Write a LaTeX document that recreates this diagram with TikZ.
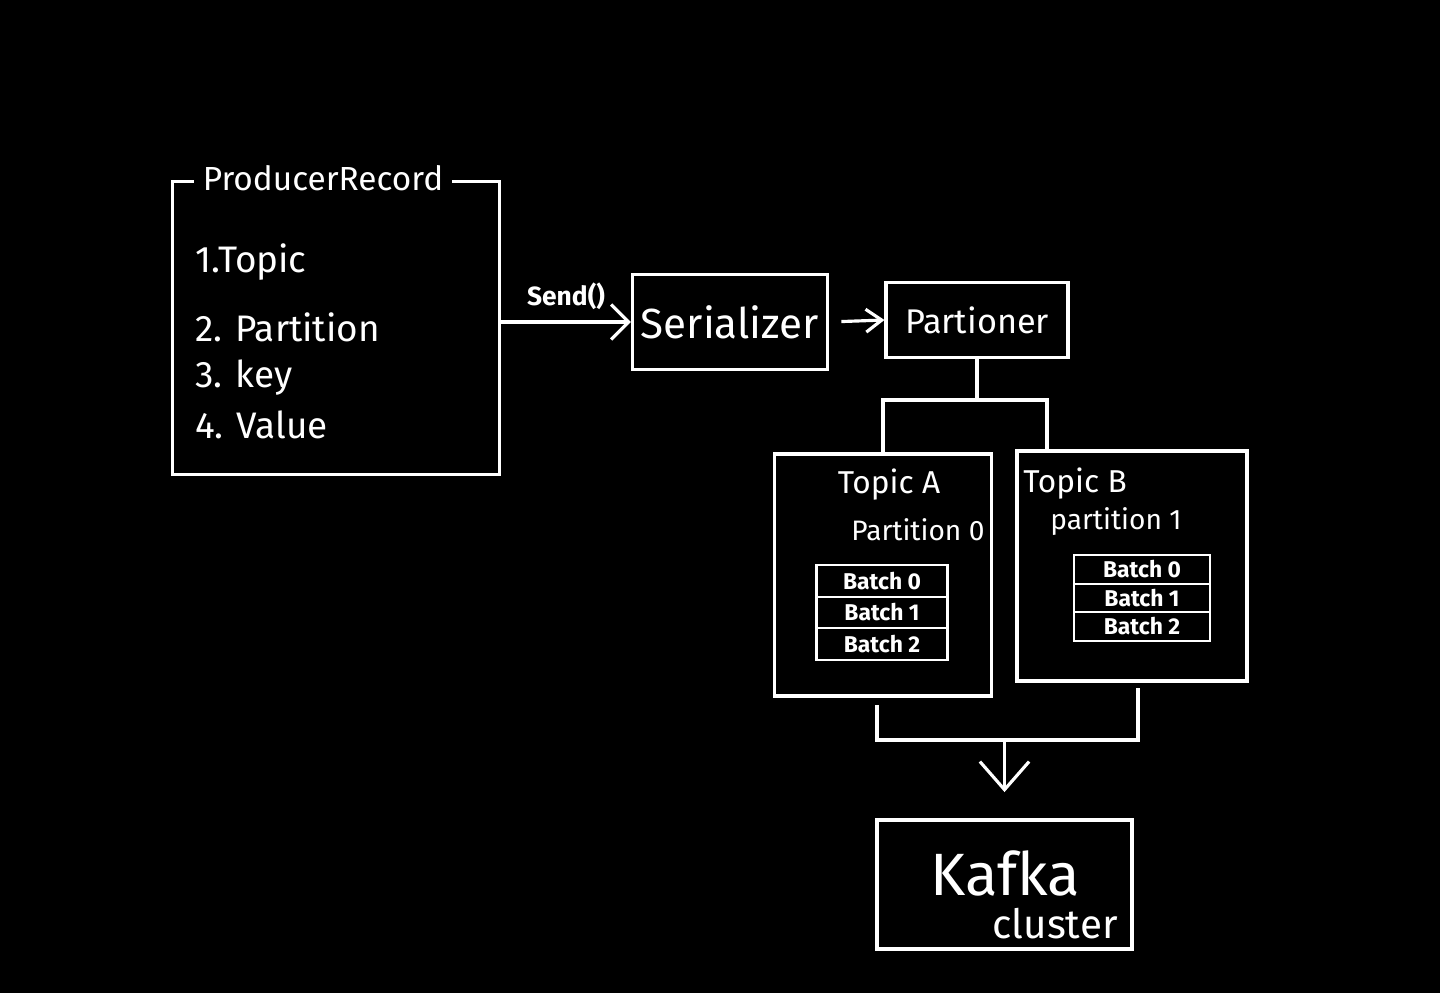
\documentclass[tikz,border=0pt]{standalone}
\usepackage{fontspec}
\setmainfont{Fira Sans}
\usetikzlibrary{arrows.meta}
\tikzset{
  box/.style={draw=white, line width=1.8pt, inner sep=0pt, text=white},
  txt/.style={text=white, inner sep=0pt},
  wire/.style={draw=white, line width=1.8pt},
  arr/.style 2 args={wire, -{Straight Barb[length=#1, width=#2]}},
  batchrow/.style={box, line width=1.4pt, font=\fontsize{13}{14}\selectfont\bfseries},
}

\begin{document}
\begin{tikzpicture}[x=0.02cm, y=-0.02cm]
    % background and page size
    \fill[black] (0,0) rectangle (1440,993);
    \useasboundingbox (0,0) rectangle (1440,993);

    % producer record
    \node[box, minimum width=6.54cm, minimum height=5.86cm] (record) at (336,328) {};
    \node[txt, fill=black, inner xsep=5pt, font=\fontsize{19}{22}\selectfont] (title) at (323,178) {ProducerRecord};
    \node[txt, anchor=west, font=\fontsize{21}{24}\selectfont] (f1) at (195,262) {1.Topic};
    \node[txt, anchor=west, font=\fontsize{21}{24}\selectfont] (f2) at (195,327) {2. Partition};
    \node[txt, anchor=west, font=\fontsize{21}{24}\selectfont] (f3) at (195,378) {3. key};
    \node[txt, anchor=west, font=\fontsize{21}{24}\selectfont] (f4) at (195,425) {4. Value};

    % serializer and partioner
    \node[box, minimum width=3.9cm, minimum height=1.9cm, font=\fontsize{24}{28}\selectfont] (ser) at (730,322) {Serializer};
    \node[box, minimum width=3.64cm, minimum height=1.5cm, font=\fontsize{19.5}{22}\selectfont] (part) at (977,320) {Partioner};

    \draw[arr={10pt}{20pt}] (record.east |- ser.west) -- (ser.west)
        node[txt, midway, above=6pt, font=\fontsize{15}{17}\selectfont\bfseries] {Send()};
    \draw[arr={9pt}{13pt}, shorten <=7pt] (ser.east) -- (part.west);

    % topic A
    \node[box, minimum width=4.34cm, minimum height=4.84cm] (topicA) at (883,575) {};
    \node[txt, font=\fontsize{18}{21}\selectfont] (nameA) at (889,485) {Topic A};
    \node[txt, font=\fontsize{16}{18}\selectfont] (partA) at (918,530) {Partition 0};
    \node[batchrow, minimum width=2.62cm, minimum height=0.63cm] (a0) at (882,581) {Batch 0};
    \node[batchrow, minimum width=2.62cm, minimum height=0.63cm] (a1) at (882,612.5) {Batch 1};
    \node[batchrow, minimum width=2.62cm, minimum height=0.63cm] (a2) at (882,644) {Batch 2};

    % topic B
    \node[box, minimum width=4.6cm, minimum height=4.6cm] (topicB) at (1132,566) {};
    \node[txt, font=\fontsize{18}{21}\selectfont] (nameB) at (1075,484) {Topic B};
    \node[txt, font=\fontsize{16}{18}\selectfont] (partB) at (1116,522) {partition 1};
    \node[batchrow, minimum width=2.72cm, minimum height=0.57cm] (b0) at (1142,569.5) {Batch 0};
    \node[batchrow, minimum width=2.72cm, minimum height=0.57cm] (b1) at (1142,598) {Batch 1};
    \node[batchrow, minimum width=2.72cm, minimum height=0.57cm] (b2) at (1142,626.5) {Batch 2};

    % fork from partioner
    \coordinate (fork) at (977,400);
    \coordinate (inB) at (1047,451);
    \draw[wire] (part.south) -- (fork);
    \draw[wire] (topicA.north) |- (fork) -| (inB);

    % kafka cluster
    \node[box, minimum width=5.1cm, minimum height=2.58cm] (kafka) at (1004.5,884.5) {};
    \node[txt, font=\fontsize{34}{38}\selectfont] (kname) at (1005,873) {Kafka};
    \node[txt, font=\fontsize{23}{26}\selectfont] (kclus) at (1055,924) {cluster};

    % merge into cluster
    \coordinate (outA) at (877,705);
    \coordinate (outB) at (1138,688);
    \coordinate (merge) at (1004.5,740);
    \draw[wire] (outA) |- (merge) -| (outB);
    \draw[arr={16pt}{28pt}, shorten >=15pt] (merge) -- (kafka.north);
\end{tikzpicture}
\end{document}
